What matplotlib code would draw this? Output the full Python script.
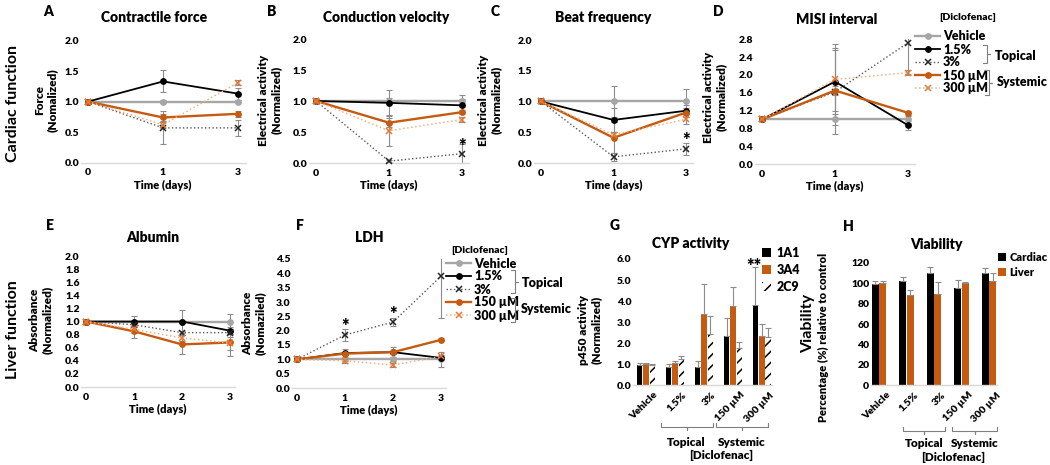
import numpy as np
import matplotlib
matplotlib.use('Agg')
import matplotlib.pyplot as plt
from matplotlib.lines import Line2D
import matplotlib.transforms as mtransforms

plt.rcParams['font.family'] = ['Lato', 'DejaVu Sans']
plt.rcParams['font.weight'] = 'bold'
plt.rcParams['hatch.linewidth'] = 1.1

W, H = 1050, 465

# ---- data ----
groups = ['Vehicle', '1.5%', '3%', '150 µM', '300 µM']
cardiac_days = ['0', '1', '3']
liver_days = ['0', '1', '2', '3']

# rows: Vehicle, 1.5%, 3%, 150 uM, 300 uM
force_mean = [[1.0, 1.0, 1.0], [1.0, 1.33, 1.13], [1.0, 0.57, 0.57], [1.0, 0.74, 0.80], [1.0, 0.62, 1.31]]
force_err = [[0, 0.02, 0.02], [0, 0.18, 0.10], [0, 0.27, 0.13], [0, 0.05, 0.05], [0, 0.05, 0.04]]

cv_mean = [[1.0, 1.0, 1.0], [1.0, 0.97, 0.93], [1.0, 0.03, 0.15], [1.0, 0.65, 0.82], [1.0, 0.52, 0.70]]
cv_err = [[0, 0.05, 0.10], [0, 0.20, 0.10], [0, 0.02, 0.15], [0, 0.07, 0.03], [0, 0.24, 0.04]]

beat_mean = [[1.0, 1.0, 1.0], [1.0, 0.70, 0.85], [1.0, 0.10, 0.23], [1.0, 0.41, 0.82], [1.0, 0.46, 0.71]]
beat_err = [[0, 0.25, 0.20], [0, 0.20, 0.10], [0, 0.07, 0.10], [0, 0.25, 0.08], [0, 0.05, 0.08]]

misi_mean = [[1.0, 1.0, 1.0], [1.0, 1.85, 0.87], [1.0, 1.62, 2.72], [1.0, 1.65, 1.15], [1.0, 1.90, 2.05]]
misi_err = [[0, 0.12, 0.08], [0, 0.85, 0.10], [0, 0.95, 0.70], [0, 0.10, 0.05], [0, 0.70, 0.05]]

alb_mean = [[1.0, 1.0, 1.0, 1.0], [1.0, 1.0, 1.0, 0.86], [1.0, 0.95, 0.83, 0.83],
            [1.0, 0.85, 0.65, 0.68], [1.0, 0.88, 0.75, 0.67]]
alb_err = [[0, 0, 0, 0.12], [0, 0.08, 0.17, 0.05], [0, 0.03, 0.03, 0.02],
           [0, 0.10, 0.15, 0.20], [0, 0.05, 0.05, 0.10]]

ldh_mean = [[1.0, 1.0, 1.0, 1.0], [1.0, 1.22, 1.25, 1.05], [1.0, 1.85, 2.30, 3.90],
            [1.0, 1.20, 1.25, 1.68], [1.0, 0.95, 0.80, 1.10]]
ldh_err = [[0, 0.05, 0.05, 0.25], [0, 0.15, 0.18, 0.05], [0, 0.20, 0.15, 1.45],
           [0, 0.05, 0.05, 0.05], [0, 0.08, 0.08, 0.05]]

cyp_1a1 = [0.97, 0.85, 0.88, 2.35, 3.82]
cyp_1a1_err = [0.10, 0.15, 0.25, 0.85, 1.80]
cyp_3a4 = [1.0, 1.07, 3.38, 3.77, 2.35]
cyp_3a4_err = [0.05, 0.05, 1.45, 0.90, 0.55]
cyp_2c9 = [0.97, 1.25, 2.45, 1.75, 2.30]
cyp_2c9_err = [0.05, 0.15, 0.85, 0.30, 0.40]

via_cardiac = [99, 102, 110, 95, 110]
via_cardiac_err = [3, 4, 6, 8, 5]
via_liver = [100, 89, 90, 100, 102]
via_liver_err = [2, 4, 11, 1, 8]

# ---- styles ----
line_colors = ['#a6a6a6', '#000000', '#595959', '#c55a11', '#f4b183']
marker_colors = ['#a6a6a6', '#000000', '#262626', '#c55a11', '#e47a36']
line_styles = ['-', '-', ':', '-', ':']
line_widths = [1.7, 1.3, 1.0, 1.7, 1.1]
line_markers = ['o', 'o', 'x', 'o', 'x']
orange = '#c55a11'
err_color = '#8c8c8c'
heavy = 'heavy'

fig = plt.figure(figsize=(W / 100, H / 100), dpi=100)


def fx(x):
    return x / W


def fy(y):
    return 1 - y / H


def style_axes(ax):
    for s in ['left', 'right', 'top']:
        ax.spines[s].set_visible(False)
    ax.spines['bottom'].set_color('#d9d9d9')
    ax.spines['bottom'].set_linewidth(1.0)
    ax.tick_params(length=0, labelsize=7.5)
    ax.tick_params(axis='x', pad=4)
    ax.tick_params(axis='y', pad=1)
    for lab in ax.get_xticklabels() + ax.get_yticklabels():
        lab.set_fontweight(heavy)


def line_panel(p0, p1, top, bottom, days, means, errs, ymax, ystep):
    n = len(days)
    dx = (p1 - p0) / (n - 1)
    l = p0 - 0.1 * dx
    r = p1 + 0.1 * dx
    ax = fig.add_axes([fx(l), fy(bottom), (r - l) / W, (bottom - top) / H])
    x = np.arange(n)
    for k in range(5):
        ax.errorbar(x, means[k], yerr=errs[k], fmt='none', ecolor=err_color,
                    elinewidth=0.8, capsize=2, capthick=0.8, zorder=2)
    handles = []
    for k in range(5):
        h, = ax.plot(x, means[k], color=line_colors[k], ls=line_styles[k], lw=line_widths[k],
                     marker=line_markers[k], ms=3.8, mfc=marker_colors[k], mec=marker_colors[k],
                     mew=1.1, zorder=3, clip_on=False)
        handles.append(h)
    ax.set_xlim(-0.1, n - 1 + 0.1)
    ax.set_ylim(0, ymax)
    ax.set_xticks(x, days)
    ticks = np.arange(0, ymax + ystep / 2, ystep)
    ax.set_yticks(ticks, ['%.1f' % t for t in ticks])
    style_axes(ax)
    ax.set_xlabel('Time (days)', fontsize=8, labelpad=2, fontweight=heavy)
    return ax, handles


def right_bracket(x, y0, y1):
    ym = (y0 + y1) / 2
    xs = [x - 4, x, x, x + 3, x, x, x - 4]
    ys = [y0, y0, ym, ym, ym, y1, y1]
    fig.add_artist(Line2D([fx(v) for v in xs], [fy(v) for v in ys], transform=fig.transFigure,
                          color='#7f7f7f', lw=0.8))


def under_bracket(ax, x0, x1, y, label, ty):
    tr = mtransforms.blended_transform_factory(ax.transData, fig.transFigure)
    xm = (x0 + x1) / 2
    xs = [x0, x0, xm, xm, xm, x1, x1]
    ys = [y - 4, y, y, y + 3, y, y, y - 4]
    fig.add_artist(Line2D(xs, [fy(v) for v in ys], transform=tr, color='#7f7f7f', lw=0.8))
    ax.text(xm, fy(ty), label, transform=tr, ha='center', va='center', fontsize=8.5, fontweight=heavy)


def drug_legend(ax, handles, left, top, title_x, title_y):
    ax.legend(handles, groups, loc='upper left', bbox_to_anchor=(fx(left), fy(top)),
              bbox_transform=fig.transFigure, frameon=False, handlelength=2.0,
              handletextpad=0.25, labelspacing=0.08, borderpad=0, borderaxespad=0,
              prop={'weight': heavy, 'size': 9})
    fig.text(fx(title_x), fy(title_y), '[Diclofenac]', ha='center', va='center', fontsize=7.5,
             fontweight=heavy)


def star(ax, x, y, s):
    ax.text(x, y, s, ha='center', va='center', fontsize=13, fontweight=heavy)


# ---- cardiac row ----
axA, hA = line_panel(88, 238, 40.5, 162.7, cardiac_days, force_mean, force_err, 2.0, 0.5)
axB, hB = line_panel(316, 462, 39, 163, cardiac_days, cv_mean, cv_err, 2.0, 0.5)
star(axB, 2, 0.26, '*')
axC, hC = line_panel(541, 686, 40, 163, cardiac_days, beat_mean, beat_err, 2.0, 0.5)
star(axC, 2, 0.36, '*')
axD, hD = line_panel(762, 908, 39.3, 164, cardiac_days, misi_mean, misi_err, 2.8, 0.4)
drug_legend(axD, hD, 915, 30.5, 968, 18)
right_bracket(987, 45, 63)
right_bracket(989, 70, 95)
fig.text(fx(995), fy(56), 'Topical', ha='left', va='center', fontsize=9, fontweight=heavy)
fig.text(fx(997), fy(82), 'Systemic', ha='left', va='center', fontsize=9, fontweight=heavy)

# ---- liver row ----
axE, hE = line_panel(86, 230, 256, 387, liver_days, alb_mean, alb_err, 2.0, 0.2)
axF, hF = line_panel(297, 441, 259, 388, liver_days, ldh_mean, ldh_err, 4.5, 0.5)
star(axF, 1, 2.15, '*')
star(axF, 2, 2.58, '*')
drug_legend(axF, hF, 446, 257.5, 480, 250)
right_bracket(515, 270, 293)
right_bracket(515, 298, 322)
fig.text(fx(522), fy(283), 'Topical', ha='left', va='center', fontsize=9, fontweight=heavy)
fig.text(fx(521), fy(309), 'Systemic', ha='left', va='center', fontsize=9, fontweight=heavy)

# ---- CYP activity ----
gx = np.arange(len(groups))
axG = fig.add_axes([fx(633), fy(385), (772 - 633) / W, (385 - 259) / H])
z = np.zeros(len(groups))
ekw = dict(ecolor=err_color, elinewidth=0.8, capsize=2, capthick=0.8)
b1 = axG.bar(gx - 0.22, cyp_1a1, 0.19, color='black', yerr=[z, cyp_1a1_err], error_kw=ekw, label='1A1')
b2 = axG.bar(gx, cyp_3a4, 0.19, color=orange, yerr=[z, cyp_3a4_err], error_kw=ekw, label='3A4')
b3 = axG.bar(gx + 0.22, cyp_2c9, 0.19, color='white', edgecolor='black', linewidth=0, hatch='///',
             yerr=[z, cyp_2c9_err], error_kw=ekw, label='2C9')
axG.set_xlim(-0.45, 4.35)
axG.set_ylim(0, 6.0)
axG.set_yticks(np.arange(0, 6.5, 1.0), ['%.1f' % t for t in np.arange(0, 6.5, 1.0)])
star(axG, 3.72, 5.66, '**')
axG.legend(handles=[b1, b2, b3], loc='upper left', bbox_to_anchor=(fx(762), fy(247)),
           bbox_transform=fig.transFigure, frameon=False, handlelength=0.7,
           handleheight=0.7, handletextpad=0.45, labelspacing=0.4, borderpad=0, borderaxespad=0,
           prop={'weight': heavy, 'size': 9})

# ---- viability ----
axH = fig.add_axes([fx(870.75), fy(385), (997.25 - 870.75) / W, (385 - 263) / H])
c1 = axH.bar(gx - 0.135, via_cardiac, 0.25, color='black', yerr=[z, via_cardiac_err], error_kw=ekw,
             label='Cardiac')
c2 = axH.bar(gx + 0.135, via_liver, 0.25, color=orange, yerr=[z, via_liver_err], error_kw=ekw,
             label='Liver')
axH.set_xlim(-0.3, 4.3)
axH.set_ylim(0, 120)
axH.set_yticks(np.arange(0, 121, 20))
axH.legend(handles=[c1, c2], loc='upper left', bbox_to_anchor=(fx(998), fy(252)),
           bbox_transform=fig.transFigure, frameon=False, handlelength=0.7,
           handleheight=0.7, handletextpad=0.35, labelspacing=0.35, borderpad=0, borderaxespad=0,
           prop={'weight': heavy, 'size': 8})

shift = mtransforms.ScaledTranslation(7 / 100, 0, fig.dpi_scale_trans)
for ax in [axG, axH]:
    ax.set_xticks(gx, groups, rotation=45, ha='right', rotation_mode='anchor')
    style_axes(ax)
    for lab in ax.get_xticklabels():
        lab.set_transform(lab.get_transform() + shift)

under_bracket(axG, 0.5, 2.3, 427, 'Topical', 442)
under_bracket(axG, 2.4, 4.2, 427, 'Systemic', 442)
trG = mtransforms.blended_transform_factory(axG.transData, fig.transFigure)
axG.text(2.6, fy(455), '[Diclofenac]', transform=trG, ha='center', va='center', fontsize=8.5,
         fontweight=heavy)
under_bracket(axH, 0.87, 2.4, 431, 'Topical', 443)
under_bracket(axH, 2.65, 4.3, 431, 'Systemic', 443)
trH = mtransforms.blended_transform_factory(axH.transData, fig.transFigure)
axH.text(2.7, fy(457), '[Diclofenac]', transform=trH, ha='center', va='center', fontsize=8.5,
         fontweight=heavy)

# ---- titles, panel letters, y labels ----
titles = [('Contractile force', 154, 18), ('Conduction velocity', 386, 18), ('Beat frequency', 603, 18),
          ('MISI interval', 837, 20), ('Albumin', 153, 237), ('LDH', 369, 237),
          ('CYP activity', 691, 243), ('Viability', 936, 244)]
for t, x, y in titles:
    fig.text(fx(x), fy(y), t, ha='center', va='center', fontsize=10, fontweight=heavy)

letters = [('A', 48, 12), ('B', 272, 12), ('C', 495, 12), ('D', 718, 12),
           ('E', 50, 225), ('F', 300, 225), ('G', 615, 225), ('H', 848, 226)]
for t, x, y in letters:
    fig.text(fx(x), fy(y), t, ha='center', va='center', fontsize=10, fontweight=heavy)

ylabels = [('Force\n(Nomalized)', 46, 100), ('Electrical activity\n(Normalized)', 270, 100),
           ('Electrical activity\n(Normalized)', 490, 100), ('Electrical activity\n(Normalized)', 715, 97),
           ('Absorbance\n(Normalized)', 41, 320), ('Absorbance\n(Nomaziled)', 254, 323),
           ('p450 activity\n(Normalized)', 590, 330)]
for t, x, y in ylabels:
    fig.text(fx(x), fy(y), t, ha='center', va='center', rotation=90, fontsize=8.5,
             multialignment='center', fontweight=heavy)

fig.text(fx(13), fy(103), 'Cardiac function', ha='center', va='center', rotation=90, fontsize=11.5)
fig.text(fx(13), fy(330), 'Liver function', ha='center', va='center', rotation=90, fontsize=11.5)
fig.text(fx(808), fy(323), 'Viability', ha='center', va='center', rotation=90, fontsize=11.5)
fig.text(fx(823), fy(337), 'Percentage (%) relative to control', ha='center', va='center', rotation=90,
         fontsize=8, fontweight=heavy)

fig.savefig('out.png', dpi=100)
